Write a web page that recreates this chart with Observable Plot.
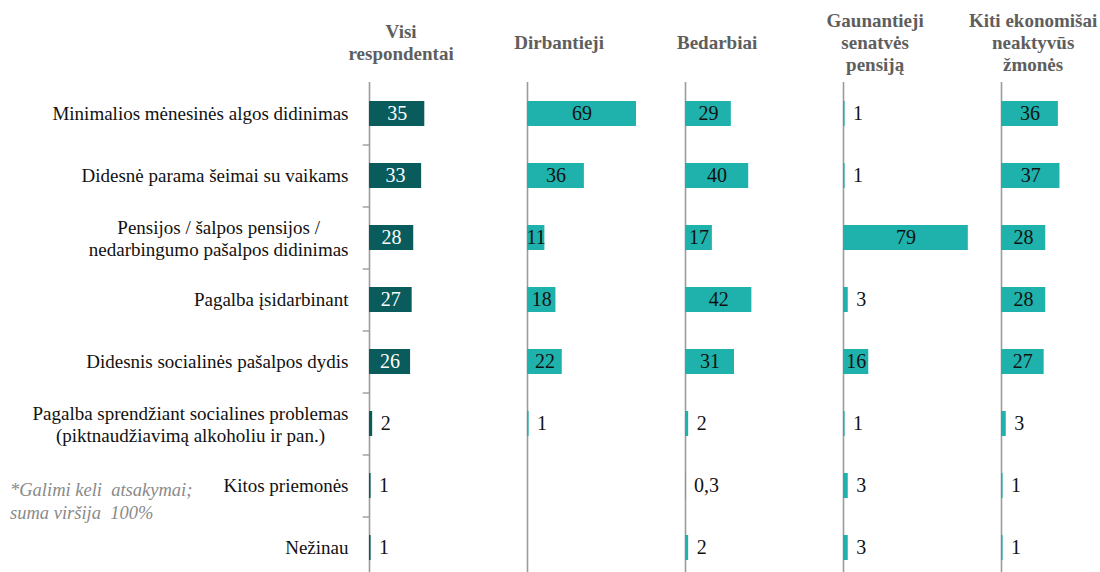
<!DOCTYPE html>
<html><head><meta charset="utf-8">
<script src="https://cdn.jsdelivr.net/npm/d3@7"></script>
<script src="https://cdn.jsdelivr.net/npm/@observablehq/plot@0.6"></script>
<style>
html,body{margin:0;padding:0;background:#fff;overflow:hidden;}
#wrap{position:relative;width:1100px;height:572px;}
#chart svg, #chart svg text{font-family:'Liberation Serif','Times New Roman','DejaVu Serif',serif !important;}
#note{position:absolute;left:10px;top:479px;font-family:'Liberation Serif','Times New Roman','DejaVu Serif',serif;font-style:italic;font-size:18.5px;color:#8a8a8a;line-height:23px;white-space:pre;}
</style></head><body>
<div id="wrap"><div id="chart"></div><div id="note">*Galimi keli  atsakymai;
suma viršija  100%</div></div>
<script>
const groups = ["Visi respondentai", "Dirbantieji", "Bedarbiai", "Gaunantieji senatvės pensiją", "Kiti ekonomišai neaktyvūs žmonės"];
const groupHeaders = ["Visi\nrespondentai", "Dirbantieji", "Bedarbiai", "Gaunantieji\nsenatvės\npensiją", "Kiti ekonomišai\nneaktyvūs\nžmonės"];
const measures = [
  "Minimalios mėnesinės algos didinimas",
  "Didesnė parama šeimai su vaikams",
  "Pensijos / šalpos pensijos /\nnedarbingumo pašalpos didinimas",
  "Pagalba įsidarbinant",
  "Didesnis socialinės pašalpos dydis",
  "Pagalba sprendžiant socialines problemas\n(piktnaudžiavimą alkoholiu ir pan.)",
  "Kitos priemonės",
  "Nežinau"
];
const visi        = [35, 33, 28, 27, 26, 2, 1, 1];
const dirbantieji = [69, 36, 11, 18, 22, 1, null, null];
const bedarbiai   = [29, 40, 17, 42, 31, 2, 0.3, 2];
const gaunantieji = [1, 1, 79, 3, 16, 1, 3, 3];
const kiti        = [36, 37, 28, 28, 27, 3, 1, 1];
const series = [visi, dirbantieji, bedarbiai, gaunantieji, kiti];

const rows = [];
groups.forEach((g, gi) => measures.forEach((m, mi) => {
  const v = series[gi][mi];
  if (v != null) rows.push({group: g, measure: m, value: v});
}));

const DARK = "#0a5b5b", LIGHT = "#1fb1ab", AXIS = "#9c9c9c", HEAD = "#5e5e5e";
const FONT = "'Liberation Serif','Times New Roman','DejaVu Serif',serif";
const LABEL_SIZE = 19;

const fmt = d => String(d.value).replace(".", ",");
const isFirst = d => d.group === groups[0];

const ctx = document.createElement("canvas").getContext("2d");
ctx.font = `${LABEL_SIZE}px ${FONT}`;
const single = measures.filter(m => !m.includes("\n"));
const multi = measures.filter(m => m.includes("\n"));
const GAP = 21;
const multiMarks = multi.map(m => {
  const w = Math.max(...m.split("\n").map(s => ctx.measureText(s).width));
  return Plot.text([m], {fx: () => groups[0], y: d => d, x: () => 0, text: d => d, dx: -GAP - w / 2,
    textAnchor: "middle", lineAnchor: "middle", fontSize: LABEL_SIZE, lineHeight: 1.13, fill: "#111", fontFamily: FONT});
});

const chart = Plot.plot({
  width: 1100, height: 572,
  marginLeft: 369, marginRight: -59, marginTop: 82, marginBottom: 0,
  style: {background: "transparent"},
  fx: {domain: groups, padding: 0, axis: null},
  x: {domain: [0, 100], axis: null},
  y: {domain: measures, range: [82, 578], paddingInner: 0.6, paddingOuter: 0.3, axis: null},
  marks: [
    Plot.ruleX([0], {stroke: AXIS, strokeWidth: 1.6}),
    Plot.ruleY(measures.slice(1), {fx: () => groups[0], y: d => d, x1: () => -4, x2: () => 0, dy: -31, stroke: AXIS, strokeWidth: 1.4}),
    Plot.barX(rows.filter(isFirst), {fx: "group", y: "measure", x: "value", fill: DARK}),
    Plot.barX(rows.filter(d => !isFirst(d)), {fx: "group", y: "measure", x: "value", fill: LIGHT}),
    Plot.text(rows.filter(d => d.value >= 10 && isFirst(d)), {fx: "group", y: "measure", x: d => d.value / 2, text: fmt, fill: "white", fontSize: 20, fontFamily: FONT}),
    Plot.text(rows.filter(d => d.value >= 10 && !isFirst(d)), {fx: "group", y: "measure", x: d => d.value / 2, text: fmt, fill: "#111", fontSize: 20, fontFamily: FONT}),
    Plot.text(rows.filter(d => d.value < 10), {fx: "group", y: "measure", x: "value", text: fmt, dx: 8, textAnchor: "start", fill: "#111", fontSize: 20, fontFamily: FONT}),
    Plot.text(single, {fx: () => groups[0], y: d => d, x: () => 0, text: d => d, dx: -GAP, textAnchor: "end", fontSize: LABEL_SIZE, fill: "#111", fontFamily: FONT}),
    ...multiMarks,
    Plot.text(groups, {fx: d => d, x: () => 20, frameAnchor: "top", dy: -41, text: (d, i) => groupHeaders[i],
      textAnchor: "middle", lineAnchor: "middle", fontWeight: "bold", fontSize: 19, lineHeight: 1.16, fill: HEAD, fontFamily: FONT})
  ]
});
document.getElementById("chart").appendChild(chart);
</script>
</body></html>
